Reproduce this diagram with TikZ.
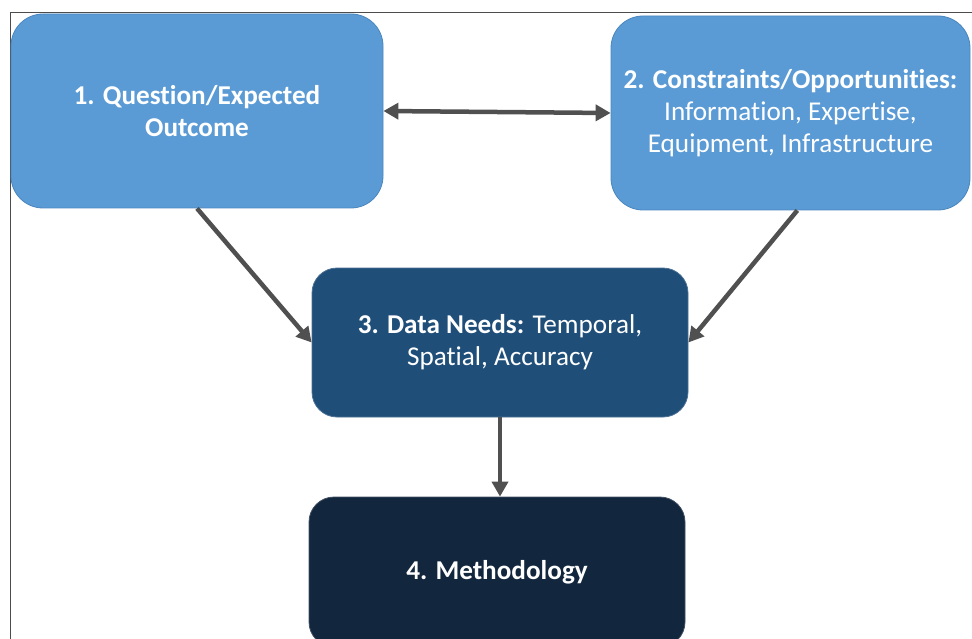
\documentclass[tikz,border=0pt]{standalone}
\usepackage{fontspec}
\setmainfont{Carlito}[Ligatures=NoCommon]
\usetikzlibrary{arrows.meta}
\definecolor{midblue}{HTML}{5B9BD5}
\definecolor{edgeblue}{HTML}{4A86BE}
\definecolor{deepblue}{HTML}{1F4E79}
\definecolor{navy}{HTML}{12263D}
\definecolor{arrowgray}{HTML}{505050}
\begin{document}
\begin{tikzpicture}[x=1pt,y=-1pt,
        box/.style={rounded corners=#1, draw=edgeblue, line width=0.8pt, text=white, align=center, inner sep=0pt, font=\fontsize{27.2}{32}\selectfont},
        link/.style={line width=4.5pt, draw=arrowgray, -{Triangle[length=15pt,width=16pt]}}]
    \useasboundingbox (0,0) rectangle (972,639);
    \clip (0,0) rectangle (972,639);
    % outer frame
    \draw[gray!60!black, line width=1pt] (10,700) -- (10,13) -- (1000,13);
    % boxes
    \node[box=32pt, fill=midblue, minimum width=372pt, minimum height=194pt] (question) at (197,111) {\textbf{1. Question/Expected}\\\textbf{Outcome}};
    \node[box=32pt, fill=midblue, minimum width=359pt, minimum height=194pt] (constraints) at (790.5,113) {\textbf{2. Constraints/Opportunities:}\\Information, Expertise,\\Equipment, Infrastructure};
    \node[box=25pt, fill=deepblue, draw=deepblue!80!white, minimum width=376pt, minimum height=149pt] (data) at (500,342.5) {\textbf{3. Data Needs:} Temporal,\\Spatial, Accuracy};
    \node[box=25pt, fill=navy, draw=navy!80!white, minimum width=376pt, minimum height=150pt] (method) at (497,572) {\textbf{4. Methodology}};
    % arrows
    \draw[link, {Triangle[length=15pt,width=16pt]}-{Triangle[length=15pt,width=16pt]}] (question.east) -- (constraints.west);
    \draw[link] (question.south) -- (data.west);
    \draw[link] (constraints.274) -- (data.east);
    \draw[link] (data.south) -- (data.south |- method.north);
\end{tikzpicture}
\end{document}
